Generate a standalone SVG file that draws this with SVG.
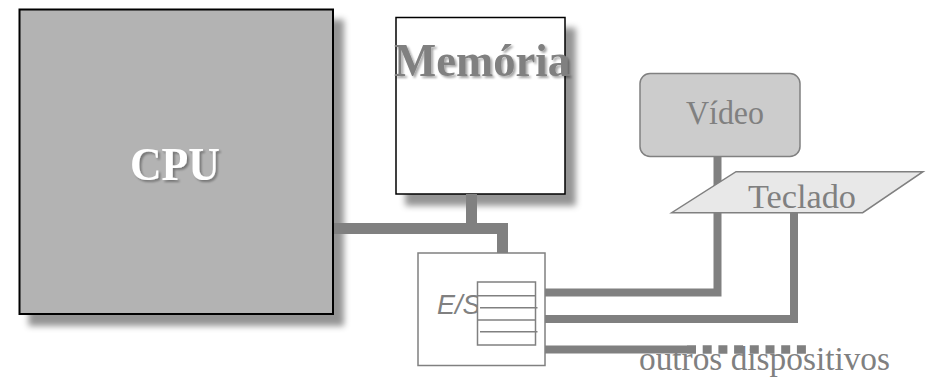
<svg xmlns="http://www.w3.org/2000/svg" width="930" height="377" viewBox="0 0 930 377">
<defs>
<filter id="sh" x="-10%" y="-10%" width="130%" height="130%">
<feDropShadow dx="10" dy="11" stdDeviation="3" flood-color="#000" flood-opacity="0.42"/>
</filter>
<filter id="tsh" x="-10%" y="-20%" width="130%" height="150%">
<feDropShadow dx="2" dy="2" stdDeviation="1" flood-color="#000" flood-opacity="0.35"/>
</filter>
</defs>
<style>
.bus{fill:none;stroke:#808080;stroke-linejoin:miter;stroke-linecap:butt}
.serif{font-family:"Liberation Serif","Times New Roman",serif}
.gray{fill:#808080}
</style>
<rect width="930" height="377" fill="#fff"/>
<g id="cpu">
<rect x="19.5" y="9.5" width="313.5" height="304.5" fill="#b3b3b3" stroke="#000" stroke-width="2" filter="url(#sh)"/>
<text x="130" y="180" class="serif" font-size="46" font-weight="bold" fill="#fff" textLength="90" lengthAdjust="spacingAndGlyphs" filter="url(#tsh)">CPU</text>
</g>
<g id="memoria">
<rect x="396" y="17.5" width="169" height="176.5" fill="#fff" stroke="#000" stroke-width="1.5" filter="url(#sh)"/>
<text x="394" y="76" class="serif gray" font-size="46" font-weight="bold" textLength="176" lengthAdjust="spacingAndGlyphs" filter="url(#tsh)">Memória</text>
</g>
<g id="connectors">
<polyline class="bus" stroke-width="11" points="334,228.5 502.5,228.5 502.5,253"/>
<line class="bus" stroke-width="11" x1="471.5" y1="194" x2="471.5" y2="229"/>
<polyline class="bus" stroke-width="8" points="545,292.5 717.5,292.5 717.5,157"/>
<polyline class="bus" stroke-width="8" points="545,319 794,319 794,213"/>
<line class="bus" stroke-width="8" x1="545" y1="349.5" x2="687" y2="349.5"/>
<line class="bus" stroke-width="8.5" stroke-dasharray="9 6.7" x1="687" y1="349.5" x2="806" y2="349.5"/>
</g>
<g id="es">
<rect x="418" y="253" width="127" height="112.5" fill="#fff" stroke="#808080" stroke-width="1.5"/>
<text x="437" y="314" font-family="Liberation Sans, Arial, sans-serif" font-style="italic" font-size="27" class="gray">E/S</text>
<rect x="477.5" y="282" width="58" height="63" fill="#fff" stroke="#808080" stroke-width="1.5"/>
<g stroke="#808080" stroke-width="1.5">
<line x1="477.5" y1="295.7" x2="535.5" y2="295.7"/>
<line x1="480" y1="307.7" x2="537.5" y2="307.7"/>
<line x1="477.5" y1="320" x2="535.5" y2="320"/>
<line x1="480" y1="331.7" x2="537.5" y2="331.7"/>
</g>
</g>
<g id="video">
<rect x="640" y="73.5" width="160" height="83" rx="10" ry="10" fill="#cccccc" stroke="#808080" stroke-width="1.5"/>
<text x="686" y="124" class="serif gray" font-size="33" textLength="78" lengthAdjust="spacingAndGlyphs">Vídeo</text>
</g>
<g id="teclado">
<polygon points="736,171.7 923,171.7 862.7,212.7 671.7,212.7" fill="#e8e8e8" stroke="#808080" stroke-width="1.5"/>
<text x="748" y="208" class="serif gray" font-size="34" textLength="108" lengthAdjust="spacingAndGlyphs">Teclado</text>
</g>
<g id="outros">
<text x="639" y="369.5" class="serif gray" font-size="34" textLength="251" lengthAdjust="spacingAndGlyphs">outros dispositivos</text>
</g>
</svg>
